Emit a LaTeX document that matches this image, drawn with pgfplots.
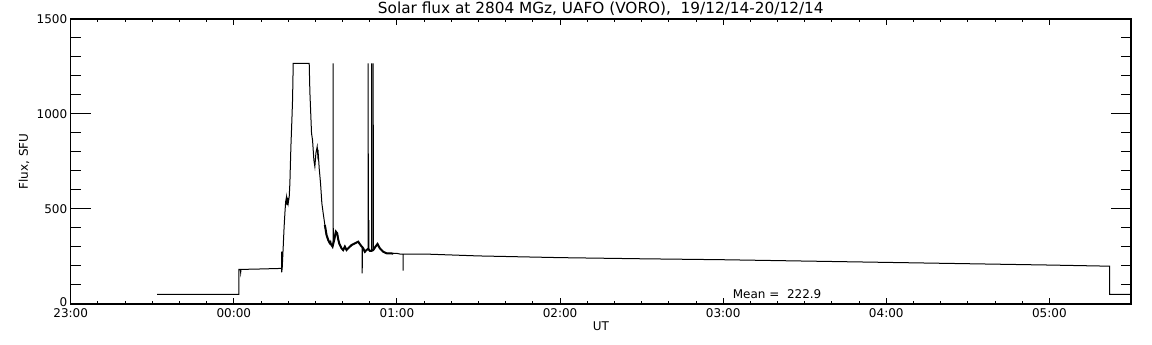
\documentclass[border=0pt]{standalone}
\usepackage{fontspec}
\setmainfont{DejaVu Sans}
\usepackage{pgfplots}
\pgfplotsset{compat=1.18}
\pgfplotsset{myaxis/.style={
  scale only axis,
  width=1060.3pt, height=285pt,
  xmin=-1, xmax=5.5, ymin=0, ymax=1500,
  axis line style={line width=1.1pt},
  tick label style={font=\fontsize{12}{14}\selectfont},
}}
\begin{document}
\begin{tikzpicture}
\useasboundingbox (-70.7pt,-41pt) rectangle (1081.3pt,304pt);
% y ticks (long)
\begin{axis}[myaxis,
  xtick=\empty,
  ytick={0,500,1000,1500},
  yticklabels={\raisebox{3pt}{0},500,1000,1500},
  minor y tick num=4,
  tick style={line width=1pt, black},
  major tick length=20pt, minor tick length=10pt,
]
\end{axis}
% x ticks (short) and data
\begin{axis}[myaxis,
  ytick=\empty,
  xtick={-1,0,1,2,3,4,5},
  xticklabels={23:00,00:00,01:00,02:00,03:00,04:00,05:00},
  minor x tick num=5,
  tick style={line width=0.9pt, black},
  major tick length=6pt, minor tick length=3pt,
  xticklabel style={yshift=-1pt},
  clip=false,
]
\addplot[black, line width=1pt] coordinates {
(-0.47,50) (0.031,50) (0.031,182) (0.040,182) (0.042,165) (0.044,182)
(0.15,184) (0.28,187) (0.2927,188) (0.2930,275) (0.2935,167) (0.2968,190)
(0.3029,302) (0.3080,400) (0.3131,477) (0.3180,540) (0.3233,565) (0.3260,520)
(0.3300,560) (0.3335,530) (0.3397,565) (0.3437,635) (0.3499,828) (0.3560,968)
(0.3601,1074) (0.3642,1267) (0.4622,1267) (0.4663,1117) (0.4724,986)
(0.4765,898) (0.4826,863) (0.4908,758) (0.4969,723) (0.5031,793) (0.5112,828)
(0.5150,780) (0.5174,793) (0.5235,714) (0.5317,635) (0.5398,530) (0.5480,477)
(0.5582,416) (0.5684,363) (0.5786,337) (0.5888,319) (0.5940,330) (0.5991,310)
(0.6052,302) (0.6090,330) (0.6093,1267) (0.6096,330) (0.6154,337) (0.6256,381)
(0.6338,372) (0.6400,340) (0.6460,319) (0.6603,293) (0.6705,284) (0.6808,302)
(0.6910,284) (0.7012,293) (0.7216,310) (0.7420,319) (0.7625,328) (0.7768,310)
(0.7870,300) (0.7873,161) (0.7876,293) (0.7931,293) (0.8033,275) (0.8135,284)
(0.8237,290) (0.8240,1267) (0.8243,290) (0.8278,290) (0.8280,442) (0.8283,290)
(0.8339,280) (0.8442,280) (0.8445,1267) (0.8448,282) (0.8544,284) (0.8547,1267)
(0.8550,284) (0.8687,302) (0.8809,316) (0.8952,293) (0.9156,275) (0.9361,267)
(0.9565,267) (0.9769,267) (0.9973,267) (1.0178,263) (1.0380,263) (1.0382,175)
(1.0385,263) (1.0586,263) (1.2016,262) (1.5,253) (2.0,244) (2.5,238) (3.0,233)
(3.5,226) (4.0,219) (4.5,212) (5.0,205) (5.369,199) (5.369,51) (5.5,51)
};
\addplot[black, line width=2pt] coordinates {
(0.5582,416) (0.5684,363) (0.5786,337) (0.5888,319) (0.5991,310)
(0.6052,302) (0.6154,337) (0.6256,381) (0.6338,372) (0.6400,340) (0.6460,319)
(0.6603,293) (0.6705,284) (0.6808,302) (0.6910,284) (0.7012,293) (0.7216,310)
(0.7420,319) (0.7625,328) (0.7768,310) (0.7870,300) (0.7931,293) (0.8033,275)
(0.8135,284) (0.8237,290) (0.8339,280) (0.8442,280) (0.8544,284) (0.8687,302)
(0.8809,316) (0.8952,293) (0.9156,275) (0.9361,267) (0.9565,267) (0.9769,265)
};
\node[anchor=west, font=\fontsize{12}{14}\selectfont, inner sep=0pt] at (axis cs:3.058,51) {Mean =~~222.9};
\node[font=\fontsize{15.3}{18}\selectfont] at ([yshift=10pt]axis description cs:0.5,1) {Solar flux at 2804 MGz, UAFO (VORO),~~19/12/14-20/12/14};
\node[font=\fontsize{12}{14}\selectfont] at ([yshift=-22.7pt]axis description cs:0.5,0) {UT};
\node[rotate=90, font=\fontsize{12}{14}\selectfont] at ([xshift=-46.7pt]axis description cs:0,0.5) {Flux, SFU};
\end{axis}
\end{tikzpicture}
\end{document}
